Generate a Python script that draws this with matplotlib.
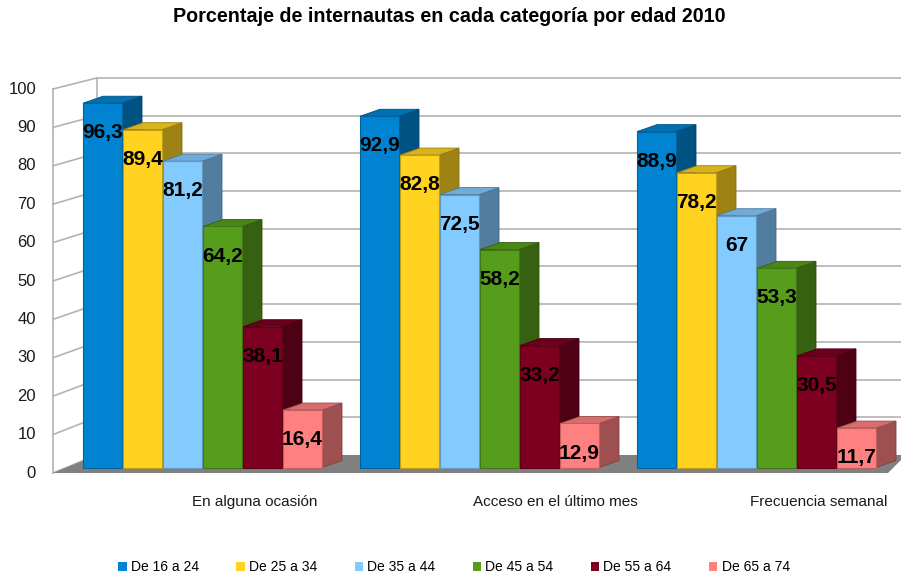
import matplotlib
matplotlib.use("Agg")
import matplotlib.pyplot as plt
from matplotlib.patches import Polygon, Patch
from matplotlib.colors import to_rgb

plt.rcParams['font.family'] = ['Liberation Sans', 'DejaVu Sans']

# ---------------- data ----------------
title = "Porcentaje de internautas en cada categoría por edad 2010"
categories = ["En alguna ocasión", "Acceso en el último mes", "Frecuencia semanal"]
series = ["De 16 a 24", "De 25 a 34", "De 35 a 44", "De 45 a 54", "De 55 a 64", "De 65 a 74"]
values = {
    "De 16 a 24": [96.3, 92.9, 88.9],
    "De 25 a 34": [89.4, 82.8, 78.2],
    "De 35 a 44": [81.2, 72.5, 67.0],
    "De 45 a 54": [64.2, 58.2, 53.3],
    "De 55 a 64": [38.1, 33.2, 30.5],
    "De 65 a 74": [16.4, 12.9, 11.7],
}
yticks = [0, 10, 20, 30, 40, 50, 60, 70, 80, 90, 100]

colors = ["#0084D1", "#FFD320", "#83CAFF", "#579D1C", "#7E0021", "#FF8080"]

# ---------------- layout (pixel-based x, value-based y) ----------------
W, H = 901, 579
PX_PER_UNIT = 3.84
Y0_PIX = 473  # pixel row of value 0 on front plane

fig = plt.figure(figsize=(W / 100, H / 100), dpi=100)
ax = fig.add_axes([0, 0, 1, 1])
ax.set_xlim(0, W)
ax.set_ylim(-(H - Y0_PIX) / PX_PER_UNIT, Y0_PIX / PX_PER_UNIT)
ax.axis("off")

def back(v):
    # back-wall height in front-plane units
    return 4.69 + 0.982 * v

wall_front_x, wall_back_x = 53, 97
grid_col = "#b3b3b3"

# floor
floor = Polygon([(wall_front_x, 0), (888, 0), (906, back(0)), (wall_back_x, back(0))],
                closed=True, facecolor="#808080", edgecolor="none", zorder=1)
ax.add_patch(floor)

# walls / gridlines
for v in yticks:
    ax.plot([wall_front_x, wall_back_x], [v, back(v)], color=grid_col, lw=1.2, zorder=0.5)
    if v > 0:
        ax.plot([wall_back_x, W], [back(v), back(v)], color=grid_col, lw=1.2, zorder=0.5)
    ax.text(36, v, str(v), ha="right", va="center", fontsize=12, color="#1a1a1a")
ax.plot([wall_front_x, wall_front_x], [0, 100], color=grid_col, lw=1.2, zorder=0.5)
ax.plot([wall_back_x, wall_back_x], [back(0), back(100)], color=grid_col, lw=1.2, zorder=0.5)

def shade(c, f):
    r, g, b = to_rgb(c)
    return (r * f, g * f, b * f)

group_start = 83
group_step = 277
bar_step = 40
bar_w = 39
dx = 20
dyv = 7 / PX_PER_UNIT
base = 1.4

z = 2
for gi, cat in enumerate(categories):
    for si, s in enumerate(series):
        v = values[s][gi]
        x = group_start + gi * group_step + si * bar_step
        c = colors[si]
        side = Polygon([(x + bar_w, base), (x + bar_w + dx, base + dyv),
                        (x + bar_w + dx, v + dyv), (x + bar_w, v)],
                       closed=True, facecolor=shade(c, 0.62), edgecolor=shade(c, 0.5),
                       lw=0.6, zorder=z)
        top = Polygon([(x, v), (x + dx, v + dyv), (x + bar_w + dx, v + dyv), (x + bar_w, v)],
                      closed=True, facecolor=shade(c, 0.85), edgecolor=shade(c, 0.6),
                      lw=0.6, zorder=z)
        ax.add_patch(side)
        ax.add_patch(top)
        ax.bar([x], [v - base], bottom=base, width=bar_w, align="edge", color=c,
               edgecolor=shade(c, 0.75), linewidth=0.8, zorder=z + 0.5)
        lab = f"{v:g}".replace(".", ",")
        ax.text(x + bar_w / 2, v - 7.7, lab, ha="center", va="center",
                fontsize=15, fontweight="bold", color="black", zorder=z + 1)
        z += 2

# category labels
cat_x = [255, 555, 819]
for cx, cat in zip(cat_x, categories):
    ax.text(cx, (Y0_PIX - 502) / PX_PER_UNIT, cat, ha="center", va="center",
            fontsize=11, color="#1a1a1a")

fig.text(449 / W, 1 - 16 / H, title, ha="center", va="center",
         fontsize=14.2, fontweight="bold", color="black")

handles = [Patch(facecolor=c, edgecolor="none", label=s) for c, s in zip(colors, series)]
fig.legend(handles=handles, loc="center", bbox_to_anchor=(454 / W, 1 - 567 / H), ncol=6,
           frameon=False, fontsize=10, handlelength=0.6, handleheight=0.6,
           handletextpad=0.3, columnspacing=2.7)

fig.savefig("out.png", dpi=100)
